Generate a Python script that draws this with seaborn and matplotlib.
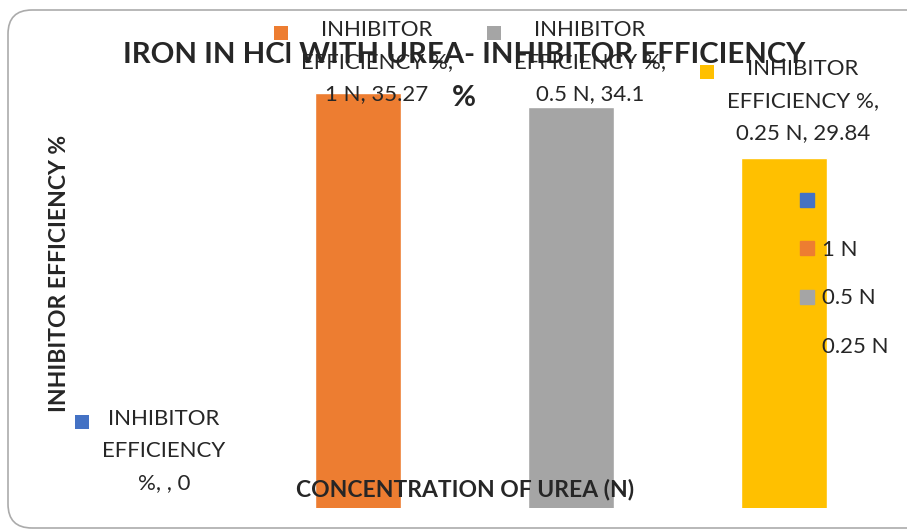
import textwrap

import matplotlib
matplotlib.use("Agg")
import matplotlib.pyplot as plt
from matplotlib.lines import Line2D
from matplotlib.patches import FancyBboxPatch, Rectangle
from matplotlib.transforms import IdentityTransform
import pandas as pd
import seaborn as sns

# Iron in HCl with urea - inhibitor efficiency per concentration
concentrations = ["", "1 N", "0.5 N", "0.25 N"]
efficiency = [0, 35.27, 34.1, 29.84]
series_colors = ["#4472C4", "#ED7D31", "#A5A5A5", "#FFC000"]
measure = "INHIBITOR EFFICIENCY %"
chart_title = "IRON IN HCl WITH UREA- INHIBITOR EFFICIENCY\n%"
x_title = "CONCENTRATION OF UREA (N)"
y_title = "INHIBITOR EFFICIENCY %"
wrap_widths = [12, 14, 14, 14]

W, H = 907, 532

sns.set_style("white")
plt.rcParams["font.family"] = ["Lato", "DejaVu Sans"]

fig = plt.figure(figsize=(W / 100, H / 100), dpi=100)
ax = fig.add_axes([38.5 / W, 24 / H, 852 / W, 472 / H])

df = pd.DataFrame({"conc": concentrations, "eff": efficiency})
sns.barplot(data=df, x="conc", y="eff", hue="conc", order=concentrations,
            hue_order=concentrations, palette=dict(zip(concentrations, series_colors)),
            dodge=False, width=0.4, saturation=1, legend=False, ax=ax)
ax.set_xlim(-0.5, 3.5)
ax.set_ylim(0.6, 40)
ax.axis("off")

# rounded chart frame
frame = FancyBboxPatch((8, 4), 940, 518, boxstyle="round,pad=0,rounding_size=24",
                       transform=IdentityTransform(), facecolor="none",
                       edgecolor="#ABABAB", linewidth=1.2)
fig.add_artist(frame)

fig.text(464 / W, 1 - 76.5 / H, chart_title, ha="center", va="center", fontsize=21.2,
         fontweight="bold", linespacing=1.78)
fig.text(465 / W, 1 - 490 / H, x_title, ha="center", va="center", fontsize=16.5,
         fontweight="bold", zorder=6)
fig.text(59 / W, 1 - 273 / H, y_title, ha="center", va="center", fontsize=16.5,
         fontweight="bold", rotation=90)

# data labels with legend keys (Excel style)
renderer = fig.canvas.get_renderer()
axis_bottom = ax.get_window_extent(renderer).y0
for i, (name, val) in enumerate(zip(concentrations, efficiency)):
    txt = textwrap.fill(f"{measure}, {name}, {val:g}", width=wrap_widths[i])
    xd, yd = ax.transData.transform((i, val))
    yd = max(yd, axis_bottom)
    t = fig.text(0, 0, txt, transform=IdentityTransform(), ha="center", va="bottom",
                 fontsize=16, linespacing=1.75, zorder=7)
    t.set_position((xd + 19, yd + 15))
    bb = t.get_window_extent(renderer)
    if bb.y1 > H - 20:
        t.set_position((xd + 19, yd + 15 - (bb.y1 - (H - 20))))
        bb = t.get_window_extent(renderer)
    key = Rectangle((bb.x0 - 27, bb.y1 - 20), 14, 14, transform=IdentityTransform(),
                    facecolor=series_colors[i], edgecolor="none", zorder=7)
    fig.add_artist(key)

handles = [Line2D([], [], marker="s", linestyle="none", markersize=10,
                  markerfacecolor=c, markeredgecolor=c) for c in series_colors]
fig.legend(handles, concentrations, loc="upper left", bbox_to_anchor=(799 / W, 1 - 192 / H),
           frameon=False, fontsize=16, handlelength=0.7, handletextpad=0.35,
           labelspacing=1.27, borderpad=0, borderaxespad=0)

fig.savefig("out.png", dpi=100)
